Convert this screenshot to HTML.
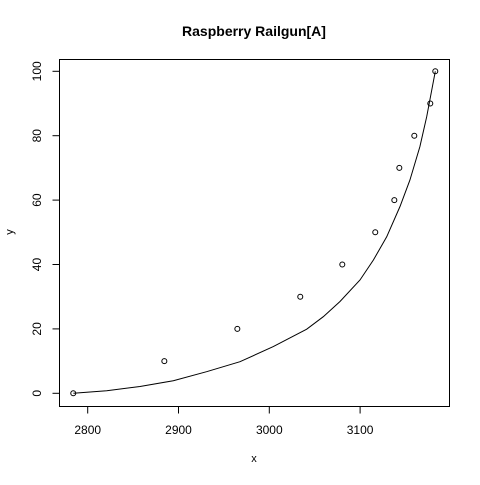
<!DOCTYPE html>
<html><head><meta charset="utf-8"><style>
html,body{margin:0;padding:0;background:#fff;}
svg text{font-family:"Liberation Sans",Arial,sans-serif;fill:#000;}
</style></head><body>
<svg id="chart" width="480" height="480" viewBox="0 0 480 480" xmlns="http://www.w3.org/2000/svg">
<rect x="0" y="0" width="480" height="480" fill="#fff"/>
<text x="254" y="36" text-anchor="middle" font-size="14" font-weight="bold">Raspberry Railgun[A]</text>
<text x="254" y="462" text-anchor="middle" font-size="11">x</text>
<text x="13" y="232" text-anchor="middle" font-size="11" transform="rotate(-90 13 232)">y</text>
<rect x="59.5" y="59.5" width="390" height="347" fill="none" stroke="#000" stroke-width="1"/>
<g id="axes"></g>
<g id="marks"></g>
</svg>
<script>
const xTicks = [2800, 2900, 3000, 3100];
const yTicks = [0, 20, 40, 60, 80, 100];
const pointX = [2784.1, 2884.4, 2964.8, 3034.1, 3080.4, 3116.7, 3137.7, 3143.2, 3159.7, 3177.3, 3182.8];
const pointY = [0, 10, 20, 30, 40, 50, 60, 70, 80, 90, 100];
const curveX = [2784.2, 2820.9, 2857.6, 2894.3, 2931.0, 2967.7, 3004.4, 3041.2, 3059.5, 3077.9, 3099.9, 3114.6, 3129.3, 3143.9, 3154.9, 3165.9, 3173.3, 3178.8, 3182.8];
const curveY = [0, 0.8, 2.1, 3.9, 6.7, 9.8, 14.5, 19.9, 23.8, 28.5, 35.2, 41.4, 48.6, 58.0, 66.2, 76.6, 85.9, 94.1, 100];

const sx = v => 87.7 + (v - 2800) * 0.908;
const sy = v => 393.3 - v * 3.22;
const NS = "http://www.w3.org/2000/svg";
const axes = document.getElementById('axes');
const marks = document.getElementById('marks');
function mk(tag, attrs, parent) {
  const e = document.createElementNS(NS, tag);
  for (const k in attrs) e.setAttribute(k, attrs[k]);
  parent.appendChild(e);
  return e;
}
// x axis
let xl = mk('line', {x1: sx(xTicks[0]), x2: sx(xTicks[xTicks.length-1]), y1: 406.5, y2: 406.5, stroke: '#000'}, axes);


xTicks.forEach(t => {
  const tk = mk('line', {x1: sx(t), x2: sx(t), y1: 406.5, y2: 413.5, stroke: '#000'}, axes);
  
  
  const lb = mk('text', {x: sx(t), y: 434, 'text-anchor': 'middle', 'font-size': 12}, axes);
  lb.textContent = t;
  
  
});
// y axis
let yl = mk('line', {x1: 59.5, x2: 59.5, y1: sy(yTicks[0]), y2: sy(yTicks[yTicks.length-1]), stroke: '#000'}, axes);


yTicks.forEach(t => {
  const tk = mk('line', {x1: 52.5, x2: 59.5, y1: sy(t), y2: sy(t), stroke: '#000'}, axes);
  
  
  const lb = mk('text', {x: 41, y: sy(t), 'text-anchor': 'middle', 'font-size': 12, transform: `rotate(-90 41 ${sy(t)})`}, axes);
  lb.textContent = t;
  
  
});
// curve
const d = curveX.map((x, i) => (i ? 'L' : 'M') + sx(x).toFixed(1) + ' ' + sy(curveY[i]).toFixed(1)).join(' ');
const path = mk('path', {d: d, fill: 'none', stroke: '#000', 'stroke-width': 1}, marks);


// points
pointX.forEach((x, i) => {
  const c = mk('circle', {cx: sx(x), cy: sy(pointY[i]), r: 2.5, fill: 'none', stroke: '#000', 'stroke-width': 1}, marks);
  
  
});
</script>
</body></html>
